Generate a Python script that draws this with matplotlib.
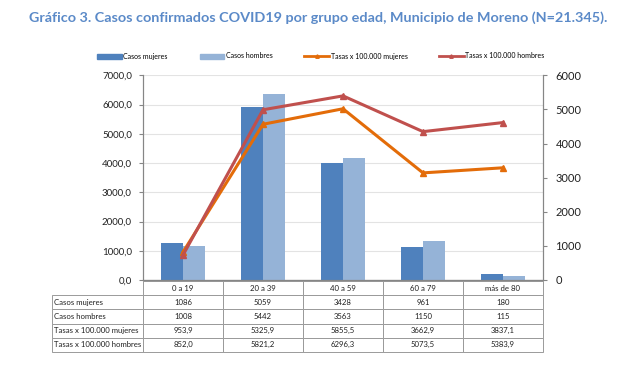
import matplotlib.pyplot as plt
import numpy as np

plt.rcParams['font.family'] = ['Lato', 'DejaVu Sans']

grupos = ["0 a 19", "20 a 39", "40 a 59", "60 a 79", "más de 80"]
casos_mujeres = [1086, 5059, 3428, 961, 180]
casos_hombres = [1008, 5442, 3563, 1150, 115]
tasas_mujeres = [953.9, 5325.9, 5855.5, 3662.9, 3837.1]
tasas_hombres = [852.0, 5821.2, 6296.3, 5073.5, 5383.9]

C_MUJ = "#4F81BD"
C_HOM = "#95B3D7"
C_TMUJ = "#E36C09"
C_THOM = "#C0504D"
GRIS = "#868686"

fig = plt.figure(figsize=(6.44, 3.69), dpi=100)
rect = [143 / 644, 1 - 280 / 369, 400 / 644, 204.7 / 369]
x = np.arange(len(grupos))

# base axes: left scale + grid
ax = fig.add_axes(rect)
ax.set_xlim(-0.5, len(grupos) - 0.5)
ax.set_ylim(0, 7000)
ax.set_yticks(np.arange(0, 7001, 1000))
ax.set_yticklabels([f"{v:.1f}".replace(".", ",") for v in np.arange(0, 7001, 1000)])
ax.yaxis.grid(True, color="#E3E3E3", lw=0.8)
ax.set_axisbelow(True)
ax.set_xticks([])
ax.tick_params(axis="y", labelsize=7, colors=GRIS, labelcolor="#222222", length=3, pad=5)

# bars on the right scale
axb = ax.twinx()
axb.set_ylim(0, 6000)
axb.set_yticks(np.arange(0, 6001, 1000))
axb.bar(x - 0.14, casos_mujeres, width=0.28, color=C_MUJ, zorder=2)
axb.bar(x + 0.14, casos_hombres, width=0.28, color=C_HOM, zorder=2)
axb.tick_params(axis="y", labelsize=8, colors=GRIS, labelcolor="#222222", length=3, pad=6)

# lines on the left scale
axl = ax.twinx()
axl.set_ylim(0, 7000)
axl.set_yticks([])
axl.plot(x, tasas_mujeres, color=C_TMUJ, lw=2.2, marker="^", ms=5)
axl.plot(x, tasas_hombres, color=C_THOM, lw=2.2, marker="^", ms=5)

for a in (ax, axb, axl):
    a.spines["top"].set_visible(False)
    for s in ("left", "right", "bottom"):
        a.spines[s].set_color(GRIS)
        a.spines[s].set_linewidth(0.8)
axl.spines["left"].set_visible(False)
axl.spines["right"].set_visible(False)

# data table below the axes
filas = ["Casos mujeres", "Casos hombres", "Tasas x 100.000 mujeres", "Tasas x 100.000 hombres"]
valores = [
    [str(v) for v in casos_mujeres],
    [str(v) for v in casos_hombres],
    [f"{v:.1f}".replace(".", ",") for v in tasas_mujeres],
    [f"{v:.1f}".replace(".", ",") for v in tasas_hombres],
]
celdas = [[f] + vals for f, vals in zip(filas, valores)]
tw = 491
tabla = ax.table(
    cellText=celdas,
    colLabels=[""] + grupos,
    colWidths=[91 / tw] + [80 / tw] * 5,
    cellLoc="center",
    bbox=[-91 / 400, -72 / 204.7, tw / 400, 71 / 204.7],
)
tabla.auto_set_font_size(False)
tabla.set_fontsize(5.6)
for (r, c), cell in tabla.get_celld().items():
    cell.set_edgecolor("#9A9A9A")
    cell.set_linewidth(0.7)
    cell.get_text().set_color("#1F1F1F")
    if c == 0:
        cell._loc = "left"
        cell.get_text().set_ha("left")
        cell.PAD = 0.02
    if r == 0 and c == 0:
        cell.visible_edges = ""

fig.text(318 / 644, 1 - 18 / 369, "Gráfico 3. Casos confirmados COVID19 por grupo edad, Municipio de Moreno (N=21.345).",
         ha="center", va="center", fontsize=10.4, fontweight="bold", color="#5B8AC8")

h1 = plt.Rectangle((0, 0), 1, 1, color=C_MUJ)
h2 = plt.Rectangle((0, 0), 1, 1, color=C_HOM)
h3, = axl.plot([], [], color=C_TMUJ, lw=2.0, marker="^", ms=2.5)
h4, = axl.plot([], [], color=C_THOM, lw=2.0, marker="^", ms=2.5)
fig.legend([h1, h2, h3, h4],
           ["Casos mujeres", "Casos hombres", "Tasas x 100.000 mujeres", "Tasas x 100.000 hombres"],
           loc="center", bbox_to_anchor=(321 / 644, 1 - 56 / 369), ncol=4, frameon=False,
           fontsize=5, handlelength=3.5, handleheight=0.7, handletextpad=0.25, columnspacing=4.6)

fig.savefig("out.png", dpi=100)
